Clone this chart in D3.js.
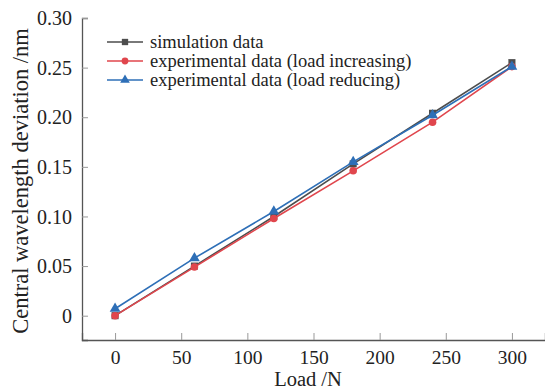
<!DOCTYPE html>
<html>
<head>
<meta charset="utf-8">
<script src="https://cdn.jsdelivr.net/npm/d3@7"></script>
<style>
  body { margin: 0; background: #fff; }
  svg text { font-family: "Liberation Serif", "Times New Roman", serif !important; fill: #222; }
</style>
</head>
<body>
<div id="chart"></div>
<script>
// data
var loads = [0, 60, 120, 180, 240, 300];
var simData = [0.000, 0.050, 0.100, 0.153, 0.204, 0.255];
var incData = [0.000, 0.049, 0.098, 0.146, 0.195, 0.251];
var redData = [0.007, 0.058, 0.105, 0.155, 0.202, 0.251];
var xTicks = [0, 50, 100, 150, 200, 250, 300];
var yTicks = [0, 0.05, 0.10, 0.15, 0.20, 0.25, 0.30];
var seriesNames = ["simulation data", "experimental data (load increasing)", "experimental data (load reducing)"];

var width = 545, height = 389;
var margin = {left: 82, top: 18, right: 0, bottom: 49};

var svg = d3.select("#chart").append("svg")
    .attr("width", width)
    .attr("height", height);

var x = d3.scaleLinear().domain([-25, 325]).range([margin.left, width - margin.right]);
var y = d3.scaleLinear().domain([-0.0245, 0.30]).range([height - margin.bottom, margin.top]);

// axes, ticks pointing inward
var xAxis = svg.append("g")
    .attr("transform", "translate(0," + (height - margin.bottom) + ")")
    .call(d3.axisTop(x).tickValues(xTicks).tickSize(7));
xAxis.selectAll("text").remove();
xAxis.selectAll(".tick").append("text")
    .attr("y", 24)
    .attr("text-anchor", "middle")
    .style("font-size", "19.5px")
    .text(function (d) { return d; });

var yAxis = svg.append("g")
    .attr("transform", "translate(" + margin.left + ",0)")
    .call(d3.axisRight(y).tickValues(yTicks).tickSize(6));
yAxis.selectAll("text").remove();
yAxis.selectAll(".tick").append("text")
    .attr("x", -10)
    .attr("dy", "0.33em")
    .attr("text-anchor", "end")
    .style("font-size", "20px")
    .text(function (d) { return d === 0 ? "0" : d3.format(".2f")(d); });

svg.selectAll(".domain").attr("stroke", "#555").attr("stroke-width", 1.3);
svg.selectAll(".tick line").attr("stroke", "#999").attr("stroke-width", 1);

// axis titles
svg.append("text")
    .attr("x", 308)
    .attr("y", 386)
    .attr("text-anchor", "middle")
    .style("font-size", "20.5px")
    .text("Load /N");

svg.append("text")
    .attr("transform", "translate(28,181) rotate(-90)")
    .attr("text-anchor", "middle")
    .style("font-size", "22.5px")
    .text("Central wavelength deviation /nm");

var series = [
    {name: seriesNames[0], values: simData, color: "#4d4d4d", symbol: d3.symbolSquare, size: 50},
    {name: seriesNames[1], values: incData, color: "#e0464d", symbol: d3.symbolCircle, size: 45},
    {name: seriesNames[2], values: redData, color: "#2e6fb7", symbol: d3.symbolTriangle, size: 50}
];

var line = d3.line()
    .x(function (d, i) { return x(loads[i]); })
    .y(function (d) { return y(d); });

series.forEach(function (s) {
    svg.append("path")
        .datum(s.values)
        .attr("fill", "none")
        .attr("stroke", s.color)
        .attr("stroke-width", 1.6)
        .attr("d", line);
    svg.selectAll(null)
        .data(s.values)
        .enter().append("path")
        .attr("transform", function (d, i) { return "translate(" + x(loads[i]) + "," + y(d) + ")"; })
        .attr("d", d3.symbol().type(s.symbol).size(s.size))
        .attr("fill", s.color);
});

// legend
var legend = svg.append("g").attr("transform", "translate(107,42)");
series.forEach(function (s, i) {
    var g = legend.append("g").attr("transform", "translate(0," + (i * 19) + ")");
    g.append("line")
        .attr("x1", 0).attr("x2", 36)
        .attr("stroke", s.color).attr("stroke-width", 1.6);
    g.append("path")
        .attr("transform", "translate(18,0)")
        .attr("d", d3.symbol().type(s.symbol).size(s.size * 0.8))
        .attr("fill", s.color);
    g.append("text")
        .attr("x", 43)
        .attr("dy", "0.3em")
        .style("font-size", "18.5px")
        .text(s.name);
});
</script>
</body>
</html>
